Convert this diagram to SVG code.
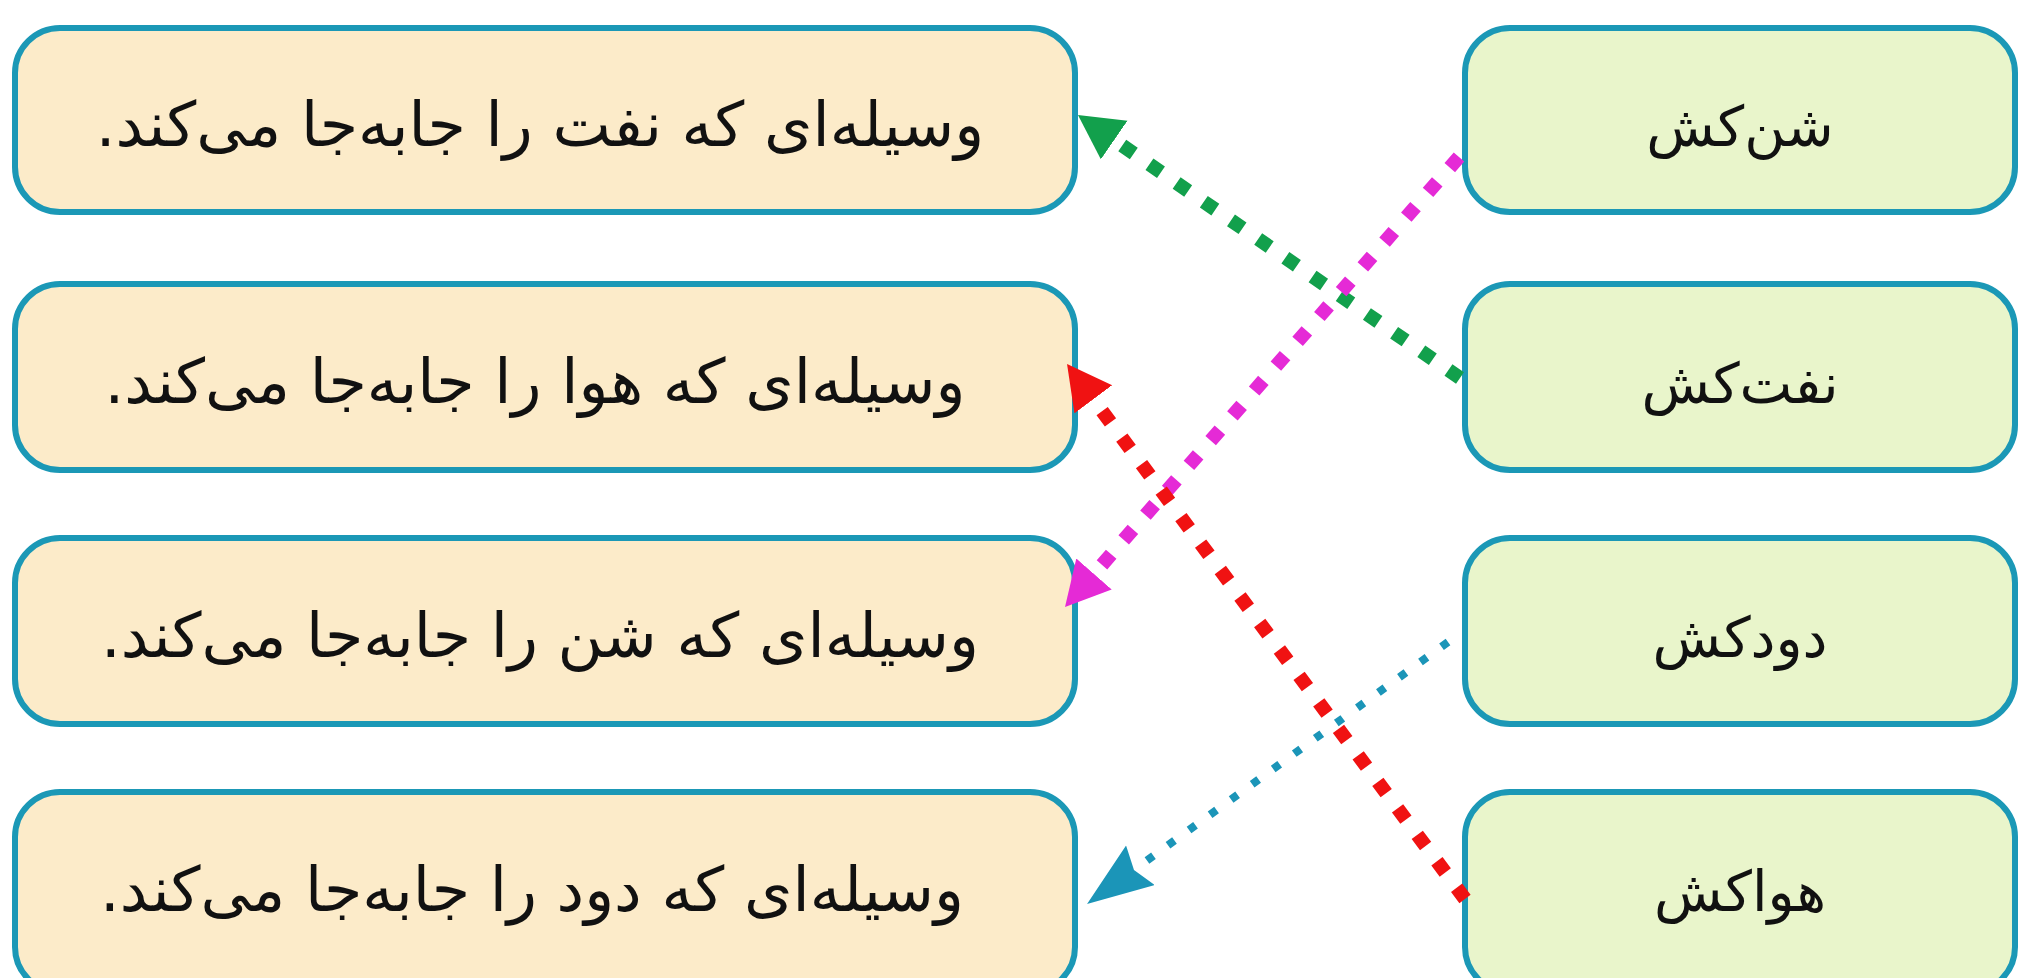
<svg xmlns="http://www.w3.org/2000/svg" width="2019" height="978" viewBox="0 0 2019 978">
<style>
.lbox{fill:#fcebc9;stroke:#1b98b6;stroke-width:6}
.rbox{fill:#e9f5cb;stroke:#1b98b6;stroke-width:6}
.t{font-family:"DejaVu Sans",sans-serif;font-size:62px;fill:#111;text-anchor:middle;direction:rtl}
.rt{font-size:56px}
.c{fill:none;stroke-width:14;stroke-dasharray:14 19}
</style>
<defs>
<marker id="ag" markerUnits="userSpaceOnUse" markerWidth="50" markerHeight="50" refX="0" refY="23.5" orient="auto"><path d="M0,0 L44,23.5 L0,47 z" fill="#12a04c"/></marker>
<marker id="am" markerUnits="userSpaceOnUse" markerWidth="50" markerHeight="50" refX="0" refY="23.5" orient="auto"><path d="M0,0 L44,23.5 L0,47 z" fill="#e52ad6"/></marker>
<marker id="ar" markerUnits="userSpaceOnUse" markerWidth="50" markerHeight="50" refX="0" refY="23.5" orient="auto"><path d="M0,0 L44,23.5 L0,47 z" fill="#f01212"/></marker>
<marker id="ab" markerUnits="userSpaceOnUse" markerWidth="70" markerHeight="52" refX="6" refY="24.5" orient="auto"><path d="M0,0 L66,24.5 L0,49 L8,24.5 z" fill="#1b95b8"/></marker>
</defs>
<rect width="2019" height="978" fill="#fff"/>
<g id="l1"><rect class="lbox" x="15" y="28" width="1060" height="184" rx="45"/><text class="t" x="540" y="146">وسیله‌ای که نفت را جابه‌جا می‌کند.</text></g>
<g id="l2"><rect class="lbox" x="15" y="284" width="1060" height="186" rx="45"/><text class="t" x="535" y="403">وسیله‌ای که هوا را جابه‌جا می‌کند.</text></g>
<g id="l3"><rect class="lbox" x="15" y="538" width="1060" height="186" rx="45"/><text class="t" x="540" y="657">وسیله‌ای که شن را جابه‌جا می‌کند.</text></g>
<g id="l4"><rect class="lbox" x="15" y="792" width="1060" height="200" rx="45"/><text class="t" x="532" y="911">وسیله‌ای که دود را جابه‌جا می‌کند.</text></g>
<g id="r1"><rect class="rbox" x="1465" y="28" width="550" height="184" rx="45"/><text class="t rt" x="1740" y="146">شن‌کش</text></g>
<g id="r2"><rect class="rbox" x="1465" y="284" width="550" height="186" rx="45"/><text class="t rt" x="1740" y="403">نفت‌کش</text></g>
<g id="r3"><rect class="rbox" x="1465" y="538" width="550" height="186" rx="45"/><text class="t rt" x="1740" y="657">دودکش</text></g>
<g id="r4"><rect class="rbox" x="1465" y="792" width="550" height="200" rx="45"/><text class="t rt" x="1740" y="911">هواکش</text></g>
<g id="connectors">
<line class="c" x1="1460" y1="378" x2="1114.2" y2="140" stroke="#12a04c" marker-end="url(#ag)"/>
<line class="c" x1="1459" y1="157" x2="1094" y2="573.9" stroke="#e52ad6" marker-end="url(#am)"/>
<line class="c" x1="1465" y1="899" x2="1093.3" y2="399.3" stroke="#f01212" marker-end="url(#ar)"/>
<line x1="1448" y1="642" x2="1135.6" y2="868.8" stroke="#1b95b8" stroke-width="8" stroke-dasharray="8 18" fill="none" marker-end="url(#ab)"/>
</g>
</svg>
